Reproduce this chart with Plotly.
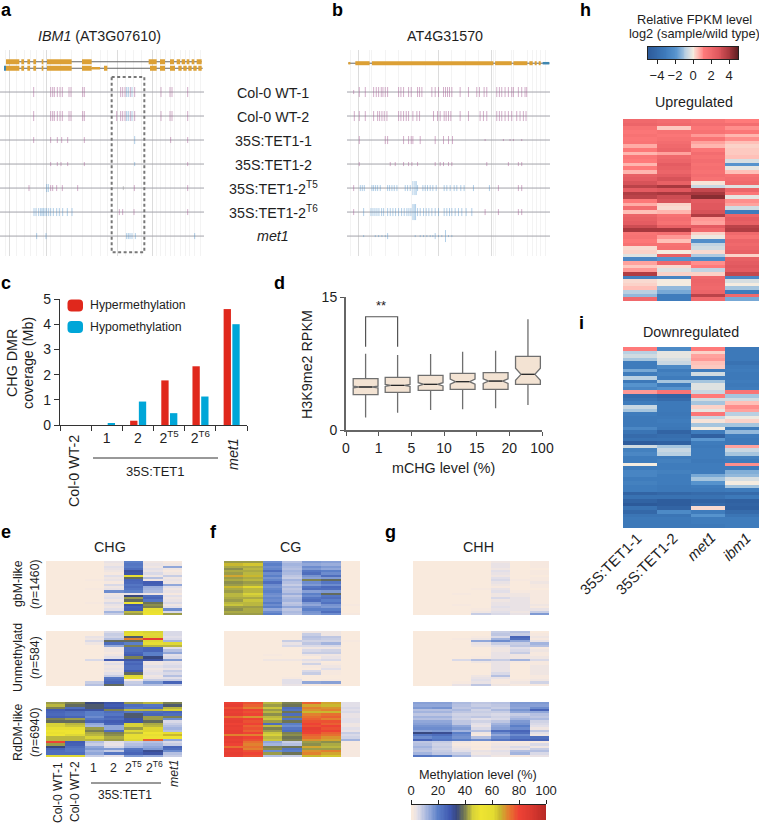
import plotly.graph_objects as go

W, H = 759, 824
FONT = "Liberation Sans"
INK = "#1e1e1e"

# ---------------- panel c
C_GROUPS = ["Col-0 WT-2", "1", "2", "2T5", "2T6", "met1"]
C_TICKS = [" ", "1", "2", "2<sup>T5</sup>", "2<sup>T6</sup>", " "]
C_HYPER = [0, 0, 0.17, 1.77, 2.33, 4.6]
C_HYPO = [0, 0.04, 0.93, 0.47, 1.13, 4.0]

# ---------------- panel d
D_LABELS = ["0", "1", "5", "10", "15", "20", "100"]
D_POS = [0.6, 1.58, 2.59, 3.57, 4.58, 5.57]
D_Q1 = [3.98, 4.25, 4.47, 4.59, 4.59, 5.15]
D_MED = [4.85, 5.03, 5.15, 5.45, 5.52, 6.28]
D_Q3 = [5.8, 5.94, 6.17, 6.39, 6.46, 8.31]
D_LOW = [1.4, 1.95, 2.25, 2.33, 2.44, 2.82]
D_HIGH = [8.6, 8.45, 8.57, 8.83, 8.94, 12.48]
D_NOTCH = [0.1, 0.12, 0.18, 0.28, 0.26, 0.68]

# ---------------- gene models (a, b)
A_T1_EXONS = [[18,58],[64,72],[82,90],[100,108],[125,130],[141,215],[246,275],[446,470],[480,495],[510,522],[530,540],[545,555],[560,568],[575,583],[590,605]]
A_T2_EXONS = [[18,58],[64,72],[82,90],[100,108],[125,130],[141,215],[246,275],[312,322],[450,470],[480,495],[510,525],[535,545],[550,560],[565,575],[580,590],[595,605]]
A_T2_UTR = [[275,300]]
A_T2_BLUE = [[12,18]]
B_EXONS = [[45,88],[95,460],[465,515],[520,562],[568,578],[584,590],[596,602]]
B_SMALL = [[24,30]]
B_BLUE = [[608,628]]
A_GRID_MAJOR = [27, 138, 352, 457]
A_GRID_MINOR = [15,50,72,90,108,130,150,180,215,246,275,300,322,375,400,425,470,480,495,510,522,540,555,568,583,600]
B_GRID_MAJOR = [56, 295, 455]
B_GRID_MINOR = [30,88,95,135,175,215,255,335,375,415,460,465,515,520,562,578,590,602,615]

# methylation ticks per track: (colour key, half height, positions)
A_TRACKS = [
    [("p",5,[101,152,158,163,172,180,187,207,213,248,253,362,368,375,391,404,483,510,516,563]),("b",5,[380,385,396])],
    [("p",5,[101,152,158,163,172,180,187,207,213,248,253,350,362,368,375,391,404,483,510,516,563]),("b",5,[380,385,396])],
    [("p",3,[101,152,172,185,203,253,512,563]),("b",4,[404])],
    [("p",2,[152,172,183,203,253,563]),("b",2,[404])],
    [("p",3,[87,152,158,170,187,233,403,563]),("b",4,[140,145]),("g",2,[370])],
    [("p",3,[358,368,402,563]),("b",4,[102,108,116,122,126,130,135,140,146,152,160,170,178,188,202,216])],
    [("b",3,[110,138,380,385,390,396,406,584])],
]
B_TRACKS = [
    [("p",5,[57,75,100,108,115,123,128,135,142,175,182,190,205,213,232,238,245,275,285,295,310,316,322,328,335,360,385,410,418,432,440,470,478,485,495,505,515,520,535,545,555,560]),("p",2,[40])],
    [("p",5,[42,57,75,100,112,118,125,132,140,175,182,190,198,205,218,230,238,280,292,300,312,318,325,332,360,385,420,430,440,470,478,485,495,505,515,530,540,550,558])],
    [("p",4,[57,135,142,190,205,213,218,240,285,310,325,337]),("p",1,[435,490,510,520,545])],
    [("p",2,[57,150,165,190,205,215,232,285,300,310,325,335,440,505,535,545])],
    [("p",3,[40,475,535,545]),("b",3,[60,66,72,95,100,106,112,120,142,148,155,162,170,195,202,210,232,248,255,262,270,278,288,312,320,330,342,350,362,372,400,448]),("b",7,[218,224,228])],
    [("p",3,[40,435,475,535,545]),("b",4,[70,92,98,104,110,116,124,130,142,150,158,166,175,184,192,200,206,212,232,240,250,258,266,275,285,295,312,320,328,335,345,355,365,378,395]),("b",8,[218,222,226])],
    [("b",1,[70,105,115,125,135,225,240,250,260,270,278,295,305,325,335]),("b",3,[142,285]),("b",6,[316])],
]

# ---------------- methylation heat maps, listed column by column (top to bottom)
P = [1]*24
E_GBM = [P, P, [1,1,1,1,1,1,1,1,2,1,1,1,2,1,1,1,1,1,2,1,1,1,1,1],
    [4,3,5,4,3,2,5,3,4,2,6,3,4,18,3,4,5,3,6,4,3,5,12,8],
    [20,22,21,24,31,30,50,38,26,25,22,24,22,20,4,34,42,38,52,30,27,28,44,42],
    [3,4,3,5,4,6,3,10,3,28,27,13,12,11,3,24,26,22,39,41,40,50,56,54],
    [2,3,14,3,2,3,8,3,4,3,14,5,3,4,2,5,3,4,6,3,5,18,6,42]]
E_UNM = [P, P, [1,1,4,3,6,3,1,1,1,1,1,1,6,1,1,1,1,1,1,1,1,1,8,10],
    [6,8,7,10,38,24,14,3,3,2,3,5,28,3,5,3,4,3,5,8,22,24,26,38],
    [48,50,36,72,38,20,40,24,24,26,28,40,30,24,26,24,24,28,38,48,58,2,8,9],
    [46,48,47,84,48,50,44,26,26,20,20,34,30,3,3,5,3,4,5,3,4,8,16,10],
    [6,6,5,6,12,48,44,5,10,14,5,6,16,4,5,6,4,8,6,10,5,8,26,8]]
E_RDM = [[42,44,40,28,26,25,27,40,38,46,46,50,52,56,52,44,44,80,42,34,26,24,24,48],
    [40,38,24,30,24,23,26,42,38,44,45,50,52,52,48,44,44,28,27,24,22,22,24,48],
    [34,36,36,30,20,20,18,22,26,14,12,42,40,43,44,46,44,10,8,14,16,12,14,8],
    [30,28,30,40,24,22,26,24,28,26,14,14,24,40,41,43,42,5,4,6,16,8,22,5],
    [42,24,22,44,22,36,36,30,30,46,46,42,48,44,50,50,48,8,10,12,22,24,26,16],
    [44,22,24,44,24,26,42,42,38,43,44,62,62,52,50,54,76,10,12,14,16,32,30,14],
    [40,36,44,46,26,24,40,18,6,8,10,12,10,50,66,52,14,6,8,26,24,18,10,8]]
F_GBM = [[42,66,43,41,43,42,68,42,43,41,42,66,43,42,44,44,43,42,44,45,42,41,43,42],
    [42,64,43,44,43,44,66,43,44,42,43,62,44,44,46,45,43,45,44,44,42,43,43,42],
    [18,20,18,19,24,18,20,17,19,24,18,17,19,20,18,17,19,18,21,18,20,14,18,20],
    [10,12,11,10,12,11,9,8,12,10,8,11,9,10,13,9,11,12,9,10,14,9,11,10],
    [16,14,18,16,22,24,17,15,40,18,16,22,24,15,20,18,22,24,16,14,18,20,17,16],
    [15,13,16,14,20,18,24,16,38,22,18,25,24,16,38,22,24,20,23,17,16,20,24,18],
    [1,1,1,1,1,1,1,1,1,1,1,1,1,1,1,1,1,1,1,2,1,1,1,2]]
F_UNM = [P, P, [1,1,1,1,1,1,1,1,1,1,2,1,3,1,1,1,1,1,1,1,1,1,1,1],
    [1,1,1,1,8,4,6,1,1,1,1,1,3,1,1,1,1,1,1,1,2,5,5,4],
    [3,8,10,9,7,9,6,3,6,8,3,1,5,3,7,2,1,6,8,1,1,1,14,2],
    [3,3,9,8,7,12,6,3,7,8,3,4,6,1,2,3,5,2,2,1,1,2,15,2],
    [1,1,1,1,2,1,1,1,1,1,1,1,1,1,1,1,1,1,1,1,1,1,1,1]]
F_RDM = [[82,84,78,84,82,84,74,82,84,80,84,82,84,84,72,84,82,84,80,74,84,82,84,82],
    [78,76,72,80,78,80,70,80,78,80,76,78,76,80,72,80,78,74,72,74,72,78,80,78],
    [44,42,45,42,44,41,44,45,42,24,44,40,42,45,46,44,45,14,12,40,41,18,42,10],
    [40,39,24,22,39,24,40,22,39,20,18,22,24,40,41,39,40,8,10,39,22,20,39,8],
    [76,68,72,70,66,72,74,76,78,80,78,84,82,80,76,74,70,42,41,68,42,70,72,66],
    [68,66,70,72,66,74,76,72,78,76,80,78,80,76,74,70,68,41,43,44,42,72,68,64],
    [5,5,6,5,6,4,4,5,5,3,3,5,4,8,6,7,12,2,2,2,2,2,2,2]]
G_GBM = [[1]*24, [1]*24, [1,1,1,1,1,1,1,1,1,1,1,1,1,1,2,1,1,1,1,2,1,1,1,1],
    [1,1,1,1,1,1,1,1,1,1,1,1,2,1,1,1,1,1,1,1,1,2,3,8],
    [3,4,4,3,5,4,3,5,6,4,3,2,4,5,3,3,6,3,4,4,5,4,5,6],
    [1,1,1,1,1,1,1,1,2,1,1,1,1,2,3,3,4,4,4,4,4,4,3,4],
    [2,2,2,1,2,2,1,2,2,3,2,2,1,2,2,2,2,2,2,3,2,4,8,16]]
G_UNM = [[1]*24, [1]*24, [1,1,1,2,1,1,1,1,1,1,1,1,6,1,1,1,1,1,1,1,1,1,2,4],
    [1,1,2,3,14,4,3,1,1,1,1,2,10,3,1,1,1,1,1,3,4,5,4,9],
    [8,9,6,12,18,8,5,3,3,4,4,4,8,4,4,4,4,4,6,10,4,2,2,3],
    [10,8,26,24,14,8,9,5,6,8,3,3,12,2,1,1,1,1,1,1,1,2,3,2],
    [1,2,3,2,4,12,10,2,3,2,2,3,6,2,2,3,3,3,3,2,2,3,7,2]]
G_RDM = [[15,14,16,10,12,9,12,10,14,15,17,18,15,34,22,18,26,9,10,12,10,9,12,22],
    [15,14,17,10,12,9,12,10,14,15,17,18,16,32,24,20,22,8,7,8,7,8,9,20],
    [11,10,9,11,9,7,8,7,9,9,14,16,12,20,18,17,20,3,2,3,4,5,8,12],
    [9,8,10,7,8,7,9,5,7,5,4,6,10,3,2,10,18,1,1,2,1,4,3,5],
    [10,9,8,11,8,6,7,6,9,12,14,15,24,18,14,18,22,2,3,4,3,5,4,3],
    [16,15,14,17,14,8,10,12,16,17,20,18,26,24,18,22,26,2,3,6,4,10,12,2],
    [16,15,18,26,14,10,9,11,7,6,5,3,9,5,3,24,26,2,6,3,8,10,6,4]]

METH_TICKS = [0, 20, 40, 60, 80, 100]
METH_RAMP = list(range(0, 101))
FPKM_TICKS = [-4, -2, 0, 2, 4]
FPKM_RAMP = [v / 10 for v in range(-50, 51)]

# ---------------- expression heat maps, column by column
H_UP = [[2,2.2,1.6,1.4,1.6,1.4,1.5,0.7,1.3,0.6,1.4,1.2,0.6,1.2,0.6,2.4,2.6,3,3.6,2.6,3.8,3.6,1.3,0.7,1.8,0.5,2.2,2.4,2.6,3.2,4,1.5,1.6,1.3,1.6,0.2,0.3,-0.3,-2.5,0.8,0.4,0.9,3.8,-2.8,0.2,0.3,0.5,-0.8,-1.2,2],
    [1.8,2,0.4,1.6,1.4,1.6,1.8,2,2.2,0.8,2,2.2,2.6,2.4,2.2,2.6,3,2.4,4,2.8,4,3.2,3,0.3,0.2,0.6,1.6,1.8,1.6,2.4,4,1.7,0.9,0.5,1.6,1.7,0,2.4,-2,2,0.2,-0.3,0.3,-2.6,0,0,-1.2,-1.5,-3,-3],
    [1.6,1.8,1.4,1.6,0.9,1.5,0.8,0.6,1.4,1.8,1.6,1.8,1.6,1.7,1.6,1.8,1.6,0.1,-0.6,3.4,4,4.4,2.6,2.8,2.8,3,3.8,0.9,0.8,2.6,2,0.3,-0.1,-2.2,-0.7,-0.5,0.2,-0.9,-2.4,1,1.2,-0.7,0.3,2,2.2,2.1,2,2.2,3.6,2],
    [1.2,1.8,1,1.4,0.6,1,0.5,0.3,0.4,0.4,0.5,-0.4,-2,-0.2,0.5,1.6,1.8,2,-0.3,2.2,1.4,-0.2,1,0.8,-0.5,-3,2.2,2.6,2.4,3.6,3.8,2,1.6,2.2,2,2.2,2.4,0.3,2.4,2.6,2.8,2.6,3.4,-2.5,-0.4,0,-1,-3,2,-1.5]]
H_DOWN = [[1.2,-0.8,-0.5,-1,-3,-3,-1.5,-3,-0.8,-3.2,-2,-2.5,0.9,-4,-3.6,-3,-0.6,-1,-3,-3.2,-3.2,-3.2,-2.5,-3.5,-4,-3.6,-4.8,-0.5,-2.8,-2.5,-3,-3,0,-3,-2.6,-2.6,-3,-2.8,-3,-3,-4.4,-3.6,-4.5,-5,-3.6,-4.2,-3.4,-3.2,-3.2,-3.2],
    [-2.4,-0.2,-0.2,-0.4,-0.6,-2.4,-3,-2.7,-3,-1,-3,-2,1.5,-4.4,-4,-3.2,-3.2,-3.2,-3.3,-3.2,-3,-3.2,-3.3,-4.4,-3.8,-3.6,-4.6,-1,-0.6,-0.8,-3,-2.8,-3,-3,-2.8,-3,-3,-3,-3.2,-3.2,-4.2,-3.6,-4.8,-4.8,-4.4,-2.4,-3.4,-3.2,-3.2,-3.2],
    [1.2,0.3,0.8,0.9,0.5,0.4,-3,-0.5,-3,-1,-0.3,-0.3,-0.6,1.2,-0.5,-1,0.3,-0.2,1.4,-0.6,0.1,-1,0,-3,-4.6,-1.8,-3,-3.2,-3,-3,-3,-3.2,-3,-3,-3,-1.5,-1,-2,-3,-3.2,-4,-3.6,-4.4,-4,0.2,-3,-2,-3,-3,-3.2],
    [-3.2,-3.2,-3.2,-3.2,-3.6,-3.2,-3,-3.2,-3.2,-3,-3.2,-3,1.5,-1,-0.5,0.5,1,0.8,-0.8,-0.1,0.3,-1,-3,-1.2,-3,-3.2,-3.2,0.8,-0.6,-1,-2.8,-3,1,-3,-1.4,-1.2,-0.4,0,-1,-3,-4,-3.2,-4.6,-4.4,-4.6,-4,-3.4,-3,-3,-3]]

METH_SCALE = [[0,"#f9eadd"],[0.015,"#f9eadd"],[0.05,"#e2dfe8"],[0.12,"#a3b4de"],[0.2,"#5b7fc8"],[0.29,"#3f58b0"],[0.34,"#38487f"],[0.39,"#6e7455"],[0.46,"#d8d238"],[0.52,"#eee431"],[0.61,"#e4dc30"],[0.66,"#c9b82f"],[0.73,"#e5782f"],[0.8,"#ee4235"],[0.88,"#dd3a30"],[1,"#b82a26"]]
FPKM_SCALE = [[0,"#2c5a9a"],[0.2,"#3f7cbc"],[0.32,"#5b97d0"],[0.42,"#b9d0e2"],[0.5,"#f5ece0"],[0.55,"#ffc0b8"],[0.62,"#ff7a7a"],[0.78,"#e0585e"],[0.9,"#a8383e"],[1,"#5a1d20"]]
COL_P, COL_B, COL_G = "rgba(170,95,150,0.5)", "rgba(70,140,200,0.42)", "rgba(150,150,150,0.5)"
GENE, GENE_BLUE = "#dca035", "#3f87b0"

fig = go.Figure()
layout = {}
ann = []
n_ax = [0]


def new_axes(x0, x1, y0, y1, xa=None, ya=None):
    n_ax[0] += 1
    k = n_ax[0]
    sx = "" if k == 1 else str(k)
    hidden = dict(visible=False, fixedrange=True)
    xd = dict(hidden, domain=[x0 / W, x1 / W], anchor="y" + sx)
    yd = dict(hidden, domain=[1 - y1 / H, 1 - y0 / H], anchor="x" + sx)
    xd.update(xa or {})
    yd.update(ya or {})
    layout["xaxis" + sx] = xd
    layout["yaxis" + sx] = yd
    return "x" + sx, "y" + sx


def txt(x, y, s, size=14.3, angle=0, anchor="center", color=INK, bold=False):
    ann.append(dict(x=x / W, y=1 - y / H, xref="paper", yref="paper", text=("<b>%s</b>" % s) if bold else s,
                    showarrow=False, textangle=angle, xanchor=anchor, yanchor="middle",
                    font=dict(size=size, color=color, family=FONT)))


def segs(pairs, y):
    xs, ys = [], []
    for a, b in pairs:
        xs += [a, b, None]
        ys += [y, y, None]
    return xs, ys


def line(x, y, ax, color, width):
    fig.add_trace(go.Scatter(x=x, y=y, xaxis=ax[0], yaxis=ax[1], mode="lines", showlegend=False,
                             hoverinfo="skip", line=dict(color=color, width=width)))


def tracks(data, ax, xr):
    for row, groups in enumerate(data):
        line(list(xr), [row, row], ax, "#a3a3aa", 1)
        for key, half, pos in groups:
            xs, ys = [], []
            for p in pos:
                xs += [p, p, None]
                ys += [row - half / 24, row + half / 24, None]
            line(xs, ys, ax, {"p": COL_P, "b": COL_B, "g": COL_G}[key], 1)


def grid_axis(rng, major, minor):
    return dict(visible=True, range=rng, showline=False, zeroline=False, showticklabels=False, ticks="",
                tickmode="array", tickvals=major, showgrid=True, gridcolor="#dcdcdc", gridwidth=1,
                minor=dict(tickmode="array", tickvals=minor, showgrid=True, gridcolor="#f3f3f3", gridwidth=1, ticks=""))


# panel a
ax = new_axes(0, 204, 50, 256, grid_axis([0, 612], A_GRID_MAJOR, A_GRID_MINOR), dict(range=[6.83, -1.75]))
tracks(A_TRACKS, ax, (0, 612))
line([18, 605], [-1.26, -1.26], ax, "#666666", 1)
line([18, 608], [-0.99, -0.99], ax, "#666666", 1)
x, y = segs(A_T1_EXONS, -1.26); line(x, y, ax, GENE, 5)
x, y = segs(A_T2_EXONS, -0.99); line(x, y, ax, GENE, 5)
x, y = segs(A_T2_UTR, -0.99); line(x, y, ax, GENE, 2.5)
x, y = segs(A_T2_BLUE, -0.99); line(x, y, ax, GENE_BLUE, 5)
layout_shapes = [dict(type="rect", xref=ax[0], yref=ax[1], x0=335, x1=433, y0=-0.625, y1=6.67,
                      line=dict(color="#777777", width=2, dash="3px,2.5px"))]

# panel b
ax = new_axes(347, 550, 50, 256, grid_axis([20, 630], B_GRID_MAJOR, B_GRID_MINOR), dict(range=[6.83, -1.75]))
tracks(B_TRACKS, ax, (20, 630))
line([24, 628], [-1.2, -1.2], ax, "#666666", 1)
x, y = segs(B_EXONS, -1.2); line(x, y, ax, GENE, 4)
x, y = segs(B_SMALL, -1.2); line(x, y, ax, GENE, 2.5)
x, y = segs(B_BLUE, -1.2); line(x, y, ax, GENE_BLUE, 2.5)

# panel c
tk = dict(size=14, color=INK, family=FONT)
ax = new_axes(60, 247, 299, 425,
              dict(visible=True, type="category", categoryorder="array", categoryarray=C_GROUPS, range=[-0.5, 5.5],
                   tickmode="array", tickvals=C_GROUPS, ticktext=C_TICKS, tickson="boundaries", ticks="outside",
                   ticklen=5, tickcolor="#333333", linecolor="#333333", linewidth=1.2, showgrid=False, tickangle=0, tickfont=tk),
              dict(visible=True, range=[0, 5], tickvals=[0, 1, 2, 3, 4, 5], ticks="outside", ticklen=5, tickcolor="#333333",
                   linecolor="#333333", linewidth=1.2, showgrid=False, zeroline=False, tickfont=tk))
fig.add_trace(go.Bar(x=C_GROUPS, y=C_HYPER, width=0.235, offset=-0.25, xaxis=ax[0], yaxis=ax[1], showlegend=False,
                     marker=dict(color="#e0281c", line=dict(width=0))))
fig.add_trace(go.Bar(x=C_GROUPS, y=C_HYPO, width=0.235, offset=0.03, xaxis=ax[0], yaxis=ax[1], showlegend=False,
                     marker=dict(color="#00a6d8", line=dict(width=0))))

# panel d
ax = new_axes(346, 542, 297, 430,
              dict(visible=True, range=[0, 6], tickmode="array", tickvals=list(range(7)), ticktext=D_LABELS, ticks="outside",
                   ticklen=4, tickcolor="#555555", linecolor="#666666", linewidth=2, showgrid=False, zeroline=False, tickfont=tk),
              dict(visible=True, range=[0, 15], tickvals=[0, 15], ticks="outside", ticklen=4, tickcolor="#555555",
                   linecolor="#666666", linewidth=2, showgrid=False, zeroline=False, tickfont=tk))
fig.add_trace(go.Box(x=D_POS, q1=D_Q1, median=D_MED, q3=D_Q3, lowerfence=D_LOW, upperfence=D_HIGH, notched=True,
                     notchspan=D_NOTCH, notchwidth=0.22, width=0.76, whiskerwidth=0, xaxis=ax[0], yaxis=ax[1],
                     boxpoints=False, showlegend=False, fillcolor="#f3e3d3", line=dict(color="#6f6f6f", width=1.3)))
med_x, med_y = [], []
for p, m in zip(D_POS, D_MED):
    med_x += [p - 0.2, p + 0.2, None]
    med_y += [m, m, None]
line(med_x, med_y, ax, "#222222", 1.1)
line([0.6, 0.6, 1.58, 1.58], [9.4, 12.77, 12.77, 9.4], ax, "#555555", 1.2)


def heat(cols, x0, x1, y0, y1, scale, zmin, zmax):
    a = new_axes(x0, x1, y0, y1, dict(range=[-0.5, len(cols) - 0.5]), dict(range=[len(cols[0]) - 0.5, -0.5]))
    fig.add_trace(go.Heatmap(z=[list(r) for r in zip(*cols)], xaxis=a[0], yaxis=a[1], colorscale=scale, zmin=zmin, zmax=zmax,
                             showscale=False, hoverinfo="skip"))


for cols_set, (x0, x1) in zip([(E_GBM, E_UNM, E_RDM), (F_GBM, F_UNM, F_RDM), (G_GBM, G_UNM, G_RDM)],
                              [(46, 182), (224, 360), (413, 549)]):
    for cols, (y0, y1) in zip(cols_set, [(561, 615), (631, 686), (702, 757)]):
        heat(cols, x0, x1, y0, y1, METH_SCALE, 0, 100)
heat(H_UP, 623, 759, 119, 301, FPKM_SCALE, -5, 5)
heat(H_DOWN, 623, 759, 347, 528, FPKM_SCALE, -5, 5)

# colour bars
ax = new_axes(411, 546, 805, 820,
              dict(visible=True, range=[0, 100], side="top", tickvals=METH_TICKS, ticks="outside", ticklen=4, tickcolor="#222222",
                   showline=True, linecolor="#222222", linewidth=1, showgrid=False, zeroline=False, tickfont=dict(size=13, color=INK, family=FONT)),
              dict(range=[0, 1]))
fig.add_trace(go.Heatmap(x=METH_RAMP, y=[0, 1], z=[METH_RAMP, METH_RAMP], xaxis=ax[0], yaxis=ax[1], colorscale=METH_SCALE,
                         zmin=0, zmax=100, showscale=False, hoverinfo="skip"))
ax = new_axes(648, 738, 47, 59,
              dict(visible=True, range=[-5, 5], tickvals=FPKM_TICKS, ticktext=["\u22124", "\u22122", "0", "2", "4"], ticks="outside",
                   ticklen=4, tickcolor="#222222", showline=True, mirror=True, linecolor="#222222", linewidth=1, showgrid=False,
                   zeroline=False, tickfont=dict(size=13, color=INK, family=FONT)),
              dict(visible=True, range=[0, 1], showticklabels=False, ticks="", showline=True, mirror=True, linecolor="#222222",
                   linewidth=1, showgrid=False, zeroline=False))
fig.add_trace(go.Heatmap(x=FPKM_RAMP, y=[0, 1], z=[FPKM_RAMP, FPKM_RAMP], xaxis=ax[0], yaxis=ax[1], colorscale=FPKM_SCALE,
                         zmin=-5, zmax=5, showscale=False, hoverinfo="skip"))

# ---------------- texts
for s, x, y in [("a", 6, 10.5), ("b", 337, 10.5), ("h", 585, 10.5), ("c", 6, 283), ("d", 279, 283), ("e", 6, 532), ("f", 213, 532),
                ("g", 390, 532), ("i", 581, 323)]:
    txt(x, y, s, 18, bold=True, color="#000000")
txt(99, 36, "<i>IBM1</i> (AT3G07610)")
txt(445, 36, "AT4G31570")
for s, y in [("Col-0 WT-1", 93), ("Col-0 WT-2", 116.5), ("35S:TET1-1", 141), ("35S:TET1-2", 164.5),
             ("35S:TET1-2<sup>T5</sup>", 188), ("35S:TET1-2<sup>T6</sup>", 212), ("<i>met1</i>", 236)]:
    txt(273, y, s)
txt(12, 363, "CHG DMR", angle=-90)
txt(28, 363, "coverage (Mb)", angle=-90)
txt(88, 305, "Hypermethylation", 12.3, anchor="left")
txt(88, 327, "Hypomethylation", 12.3, anchor="left")
txt(74, 471, "Col-0 WT-2", angle=-90)
txt(233, 454, "<i>met1</i>", angle=-90)
txt(155, 471, "35S:TET1", 13)
txt(381, 306, "**", 13)
txt(307, 365, "H3K9me2 RPKM", angle=-90)
txt(443, 468, "mCHG level (%)")
for s, x in [("CHG", 110), ("CG", 290), ("CHH", 479)]:
    txt(x, 547, s)
for a, b, y in [("gbM-like", "(<i>n</i>=1460)", 584), ("Unmethylatd", "(<i>n</i>=584)", 658), ("RdDM-like", "(<i>n</i>=6940)", 732)]:
    txt(18, y, a, 12.3, angle=-90)
    txt(35, y, b, 12.3, angle=-90)
txt(58, 792, "Col-0 WT-1", 12, angle=-90)
txt(75, 792, "Col-0 WT-2", 12, angle=-90)
for s, x, y in [("1", 93, 768), ("2", 113, 768), ("2<sup>T5</sup>", 133, 767), ("2<sup>T6</sup>", 154, 767)]:
    txt(x, y, s, 12.3)
txt(174, 774, "<i>met1</i>", 12.3, angle=-90)
txt(125, 795, "35S:TET1", 12)
txt(478, 775, "Methylation level (%)", 12.7)
txt(694, 19, "Relative FPKM level", 12.8)
txt(694, 34, "log2 (sample/wild type)", 12.8)
txt(694, 102, "Upregulated")
txt(691, 332, "Downregulated")
for s, x, y in [("35S:TET1-1", 611, 564), ("35S:TET1-2", 647, 564), ("<i>met1</i>", 701, 547), ("<i>ibm1</i>", 737, 547)]:
    txt(x, y, s, 14.8, angle=-45)


def paper_line(x0, x1, y):
    return dict(type="line", xref="paper", yref="paper", x0=x0 / W, x1=x1 / W, y0=1 - y / H, y1=1 - y / H,
                line=dict(color="#333333", width=1))


def swatch(x0, x1, y0, y1, color):
    a, b, c, d = x0 / W, x1 / W, 1 - y0 / H, 1 - y1 / H
    rx, ry = 4 / W, 4 / H
    path = (f"M {a+rx} {c} L {b-rx} {c} Q {b} {c} {b} {c-ry} L {b} {d+ry} Q {b} {d} {b-rx} {d} "
            f"L {a+rx} {d} Q {a} {d} {a} {d+ry} L {a} {c-ry} Q {a} {c} {a+rx} {c} Z")
    return dict(type="path", xref="paper", yref="paper", path=path, fillcolor=color, line=dict(width=0))


layout_shapes += [paper_line(93, 218, 458), paper_line(91, 161, 783),
                  swatch(67.5, 83, 299.5, 311.5, "#e0281c"), swatch(67.5, 83, 321, 333, "#00a6d8")]

fig.update_layout(width=W, height=H, margin=dict(l=0, r=0, t=0, b=0, autoexpand=False), paper_bgcolor="white", plot_bgcolor="white",
                  autosize=False, showlegend=False, font=dict(family=FONT, color=INK), annotations=ann, shapes=layout_shapes,
                  barmode="overlay", **layout)
fig.write_html("out.html", config=dict(displayModeBar=False),
               post_script="document.body.style.margin='0';document.body.style.overflow='hidden';")
